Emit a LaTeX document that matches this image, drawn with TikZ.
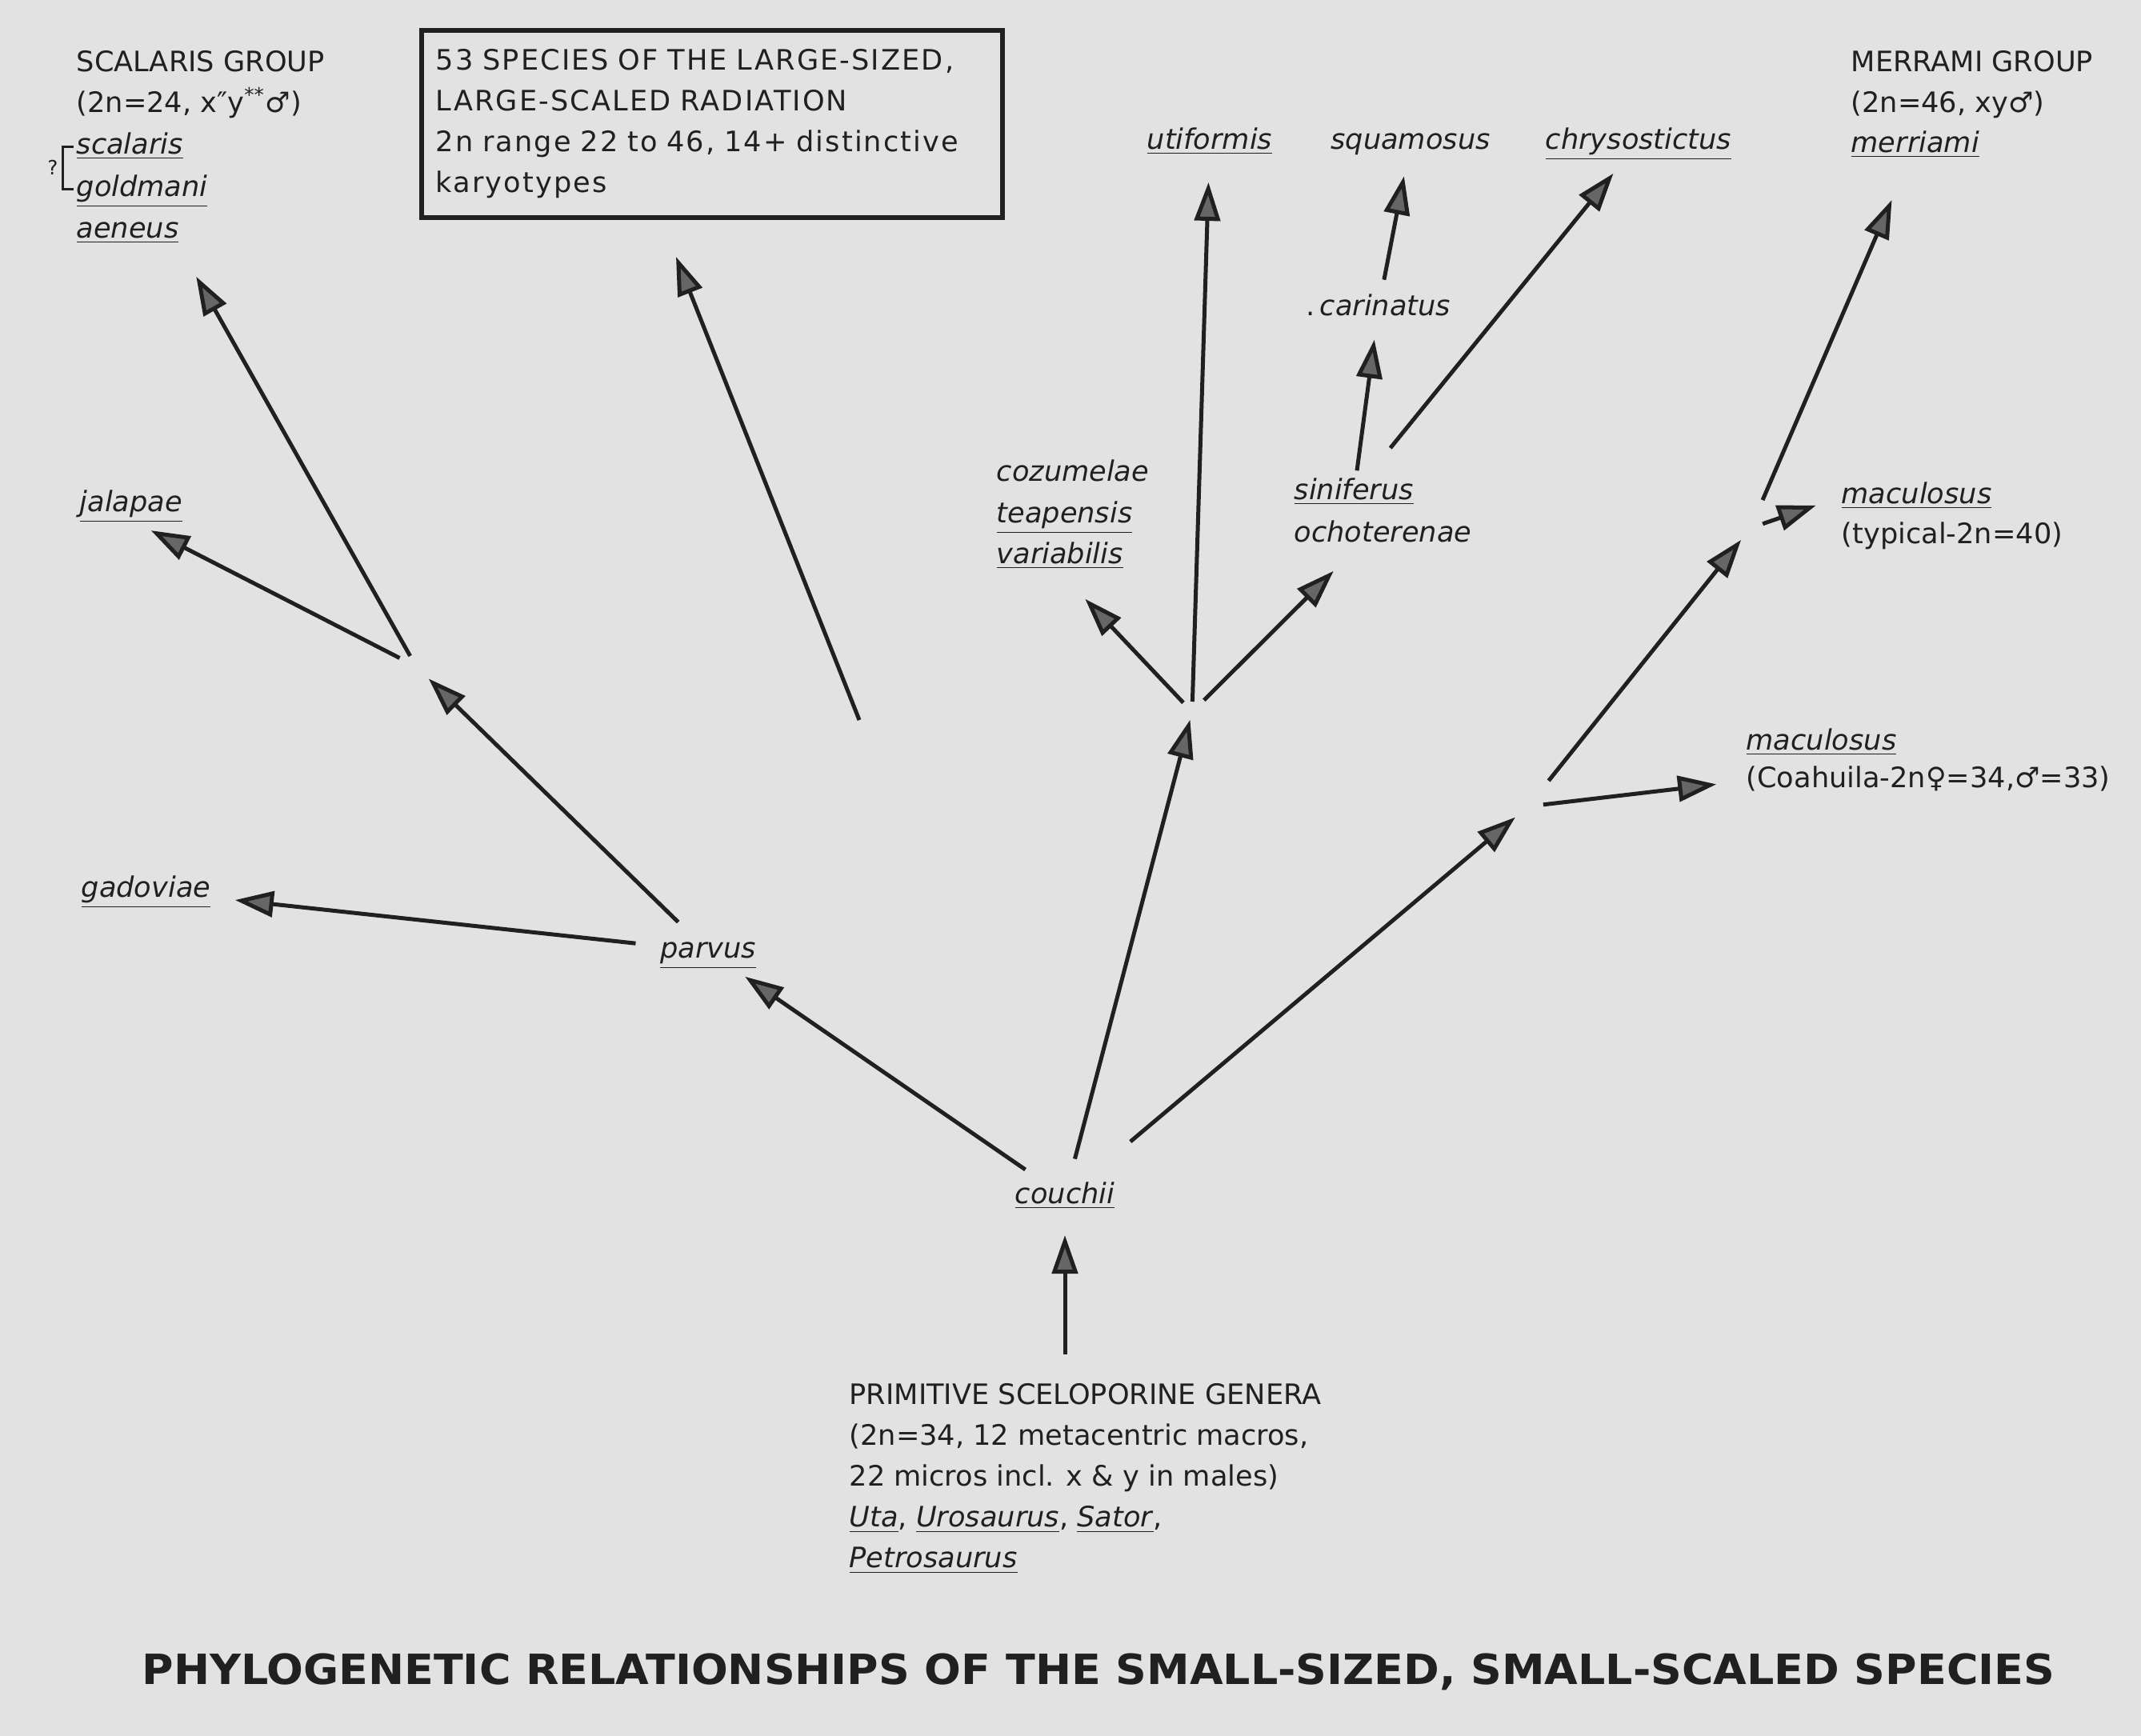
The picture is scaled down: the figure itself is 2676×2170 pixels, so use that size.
\documentclass[tikz,border=0pt]{standalone}
\usepackage{fontspec}
\setmainfont{DejaVu Sans}
\usetikzlibrary{arrows.meta}
\definecolor{paper}{RGB}{226,226,226}
\definecolor{ink}{RGB}{32,32,32}
\newcommand\spu[1]{\underline{\textit{#1}}}
\newcommand\spi[1]{\textit{#1}}
\newcommand\lblfont{\fontsize{10pt}{14.5pt}\selectfont}
\newcommand\titlefont{\fontsize{14.8pt}{18pt}\selectfont\bfseries}
\tikzstyle{lbl}=[inner sep=0pt,text=ink,font=\lblfont,text height=7.6pt,text depth=3pt]
\tikzstyle{lft}=[lbl,anchor=west]
\tikzstyle{blk}=[inner sep=0pt,text=ink,font=\lblfont,align=left]
\tikzstyle{radbox}=[draw=ink,line width=0.06cm,minimum width=7.25cm,minimum height=2.34cm,
  text width=6.9cm,align=left,inner sep=0.16cm,text=ink,font=\lblfont\addfontfeature{LetterSpace=6}]
\tikzstyle{br}=[draw=ink,line width=0.05cm,-{Triangle[length=0.48cm,width=0.32cm,fill=black!60]}]
\begin{document}
\begin{tikzpicture}[x=0.01cm,y=-0.01cm]
  \fill[paper] (0,0) rectangle (2676,2170);

  \node[lft] (scalgrp)  at (95,81)  {SCALARIS GROUP};
  \node[lft] (scaltwo)  at (95,132) {(2n=24, x″y\textsuperscript{**}♂)};
  \node[lft] (scalaris) at (95,184) {\spu{scalaris}};
  \node[lft] (goldmani) at (95,237) {\spu{goldmani}};
  \node[lft] (aeneus)   at (95,289) {\spu{aeneus}};
  \draw[ink,line width=0.03cm] ([xshift=-0.03cm]scalaris.west) -| ([xshift=-0.16cm]goldmani.west) -- ([xshift=-0.03cm]goldmani.west);
  \node[lbl,font=\fontsize{7pt}{8pt}\selectfont] (query) at (66,210) {?};

  \node[radbox] (radbox) at (890,155) {53 SPECIES OF THE LARGE-SIZED,\\LARGE-SCALED RADIATION\\2n range 22 to 46, 14+ distinctive\\karyotypes};

  \node[lft] (merrgrp)  at (2313,81)  {MERRAMI GROUP};
  \node[lft] (merrtwo)  at (2313,132) {(2n=46, xy♂)};
  \node[lft] (merriami) at (2313,182) {\spu{merriami}};

  \node[lbl] (utiformis)     at (1512,178) {\spu{utiformis}};
  \node[lbl] (squamosus)     at (1763,178) {\spi{squamosus}};
  \node[lbl] (chrysostictus) at (2048,178) {\spu{chrysostictus}};
  \node[lft] (carinatus)     at (1632,386) {.\,\spi{carinatus}};
  \node[lft] (cozumelae)     at (1245,593) {\spi{cozumelae}};
  \node[lft] (teapensis)     at (1245,645) {\spu{teapensis}};
  \node[lft] (variabilis)    at (1245,696) {\spu{variabilis}};
  \node[lft] (siniferus)     at (1617,616) {\spu{siniferus}};
  \node[lft] (ochoterenae)   at (1617,669) {\spi{ochoterenae}};
  \node[lft] (macutyp)       at (2301,621) {\spu{maculosus}};
  \node[lft] (typtwo)        at (2301,671) {(typical-2n=40)};
  \node[lft] (jalapae)       at (99,631)   {\spu{jalapae}};
  \node[lft] (macucoah)      at (2182,929) {\spu{maculosus}};
  \node[lft] (coahtwo)       at (2182,976) {(Coahuila-2n♀=34,♂=33)};
  \node[lft] (gadoviae)      at (101,1113) {\spu{gadoviae}};
  \node[lbl] (parvus)        at (885,1189) {\spu{parvus}};
  \node[lbl] (couchii)       at (1331,1496) {\spu{couchii}};
  \node[blk,anchor=north west] (prim) at (1061,1729) {PRIMITIVE SCELOPORINE GENERA\\(2n=34, 12 metacentric macros,\\22 micros incl. x \& y in males)\\\spu{Uta}, \spu{Urosaurus}, \spu{Sator},\\\spu{Petrosaurus}};

  \node[lbl,font=\titlefont] (title) at (1373,2097) {\scalebox{1.035}[1]{PHYLOGENETIC RELATIONSHIPS OF THE SMALL-SIZED, SMALL-SCALED SPECIES}};

  \coordinate (jparvus) at (520,833);
  \coordinate (jcentre) at (1490,890);
  \coordinate (jcoah)   at (1910,1008);
  \coordinate (jtyp)    at (2188,660);
  \coordinate (radfoot) at (1074,900);
  \coordinate (radtip)  at ([xshift=-0.45cm,yshift=-0.46cm]radbox.south);

  \draw[br,shorten <=0.36cm,shorten >=0.48cm] (couchii |- prim.north) -- (couchii.center);
  \draw[br,shorten <=0.6cm,shorten >=0.56cm] (couchii.center) -- (parvus.center);
  \draw[br,shorten <=0.49cm,shorten >=0.1cm] (couchii.center) -- (jcentre);
  \draw[br,shorten <=1.07cm,shorten >=0.21cm] (couchii.center) -- (jcoah);
  \draw[br,shorten <=0.91cm,shorten >=1.12cm] (parvus.center) -- (gadoviae.center);
  \draw[br,shorten <=0.52cm,shorten >=0.22cm] (parvus.center) -- (jparvus);
  \draw[br,shorten <=0.23cm,shorten >=0.28cm] (jparvus) -- (jalapae.south);
  \draw[br,shorten <=0.15cm,shorten >=0.43cm] (jparvus) -- (aeneus.south east);
  \draw[br] (radfoot) -- (radtip);
  \draw[br,shorten <=0.16cm,shorten >=0.46cm] (jcentre) -- (variabilis.south);
  \draw[br,shorten <=0.13cm,shorten >=0.5cm] (jcentre) -- (utiformis.center);
  \draw[br,shorten <=0.21cm,shorten >=0.36cm] (jcentre) -- (ochoterenae.south west -| siniferus.center);
  \draw[br,shorten <=0.28cm,shorten >=0.39cm] (siniferus.center) -- (carinatus.center);
  \draw[br,shorten <=0.37cm,shorten >=0.43cm] (carinatus.center) -- (squamosus.center);
  \draw[br,shorten <=0.72cm,shorten >=0.5cm] (siniferus.center) -- (chrysostictus.center);
  \draw[br,shorten <=0.19cm,shorten >=0.37cm] (jcoah) -- (coahtwo.west);
  \draw[br,shorten <=0.41cm,shorten >=0.19cm] (jcoah) -- (jtyp);
  \draw[br,shorten <=0.16cm,shorten >=0.33cm] (jtyp) -- (macutyp.west);
  \draw[br,shorten <=0.38cm,shorten >=0.74cm] (jtyp) -- (merriami.center);
\end{tikzpicture}
\end{document}
